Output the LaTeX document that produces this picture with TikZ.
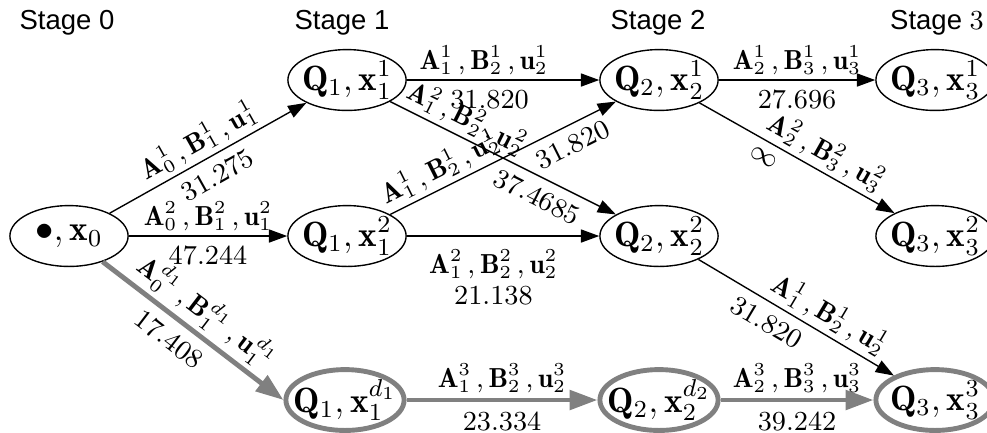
\documentclass[tikz,border=0pt]{standalone}
\usepackage{amsmath}
\usepackage{amssymb}
\usepackage{fontspec}
\newfontfamily\stagefont{Liberation Sans}
\usetikzlibrary{shapes.geometric,arrows.meta}

\definecolor{pathgray}{RGB}{128,128,128}
\newcommand{\abu}[3]{$\mathbf{A}_{#1}^{#3}\,,\mathbf{B}_{#2}^{#3}\,,\mathbf{u}_{#2}^{#3}$}
\newcommand{\qx}[2]{$\mathbf{Q}_{#1},\mathbf{x}_{#1}^{#2}$}

\tikzset{
	state/.style={ellipse, draw, line width=0.45pt, minimum width=1.36cm, minimum height=0.7cm, inner xsep=-6pt, inner ysep=-3pt, font=\fontsize{11.5}{13}\selectfont},
	best/.style={state, draw=pathgray, line width=1.6pt},
	arc/.style={draw, line width=0.45pt, -{Triangle[length=0.21cm,width=0.15cm]}},
	bestarc/.style={draw=pathgray, line width=1.6pt, -{Triangle[length=0.32cm,width=0.22cm]}},
	lbl/.style={font=\fontsize{9}{10}\selectfont, inner sep=1.5pt},
	num/.style={font=\fontsize{9}{10}\selectfont, inner sep=3pt},
	stagelbl/.style={font=\stagefont\fontsize{9}{11}\selectfont}
}

\begin{document}
\begin{tikzpicture}[x=0.0115cm, y=-0.0115cm]
		\useasboundingbox (0,0) rectangle (987,432);
		
		\node[stagelbl] (stage0) at (67,23) {Stage 0};
		\node[stagelbl] (stage1) at (342,23) {Stage 1};
		\node[stagelbl] (stage2) at (658,23) {Stage 2};
		\node[stagelbl] (stage3) at (937,23) {Stage {\rmfamily 3}};
		
		\node[state] (s0) at (69,236) {$\bullet,\mathbf{x}_0$};
		
		\node[state] (q11) at (347,80) {\qx{1}{1}};
		\node[state] (q12) at (347,236) {\qx{1}{2}};
		\node[best] (q1d) at (345,400) {\qx{1}{d_1}};
		
		\node[state] (q21) at (659,80) {\qx{2}{1}};
		\node[state] (q22) at (659,236) {\qx{2}{2}};
		\node[best] (q2d) at (659,400) {\qx{2}{d_2}};
		
		\node[state] (q31) at (935,80) {\qx{3}{1}};
		\node[state] (q32) at (935,236) {\qx{3}{2}};
		\node[best] (q33) at (935,400) {\qx{3}{3}};
		
		% stage 0 -> stage 1
		\draw[arc] (s0) -- node[lbl, sloped, above] {\abu{0}{1}{1}} node[num, sloped, below] {31.275} (q11);
		\draw[arc] (s0) -- node[lbl, above] {\abu{0}{1}{2}} node[num, below] {47.244} (q12);
		\draw[bestarc] (s0) -- node[lbl, sloped, above, pos=.5] {\abu{0}{1}{d_1}} node[num, sloped, below, pos=.44] {17.408} (q1d.west);
		
		% stage 1 -> stage 2
		\draw[arc] (q11) -- node[lbl, above, pos=.4] {\abu{1}{2}{1}} node[num, below, pos=.43] {31.820} (q21);
		\draw[arc] (q11) -- node[lbl, sloped, above, pos=.3] {\abu{1}{2}{2}} node[num, sloped, below, pos=.69] {37.4685} (q22);
		\draw[arc] (q12) -- node[lbl, sloped, above, pos=.26] {\abu{1}{2}{1}} node[num, sloped, below, pos=.77] {31.820} (q21);
		\draw[arc] (q12) -- node[lbl, below=0.1cm, pos=.45] {\abu{1}{2}{2}} node[num, below=0.46cm, pos=.45] {21.138} (q22);
		\draw[bestarc] (q1d) -- node[lbl, above] {\abu{1}{2}{3}} node[num, below] {23.334} (q2d);
		
		% stage 2 -> stage 3
		\draw[arc] (q21) -- node[lbl, above] {\abu{2}{3}{1}} node[num, below] {27.696} (q31);
		\draw[arc] (q21) -- node[lbl, sloped, above, pos=.6] {\abu{2}{3}{2}} node[num, sloped, below, pos=.37] {$\infty$} (q32);
		\draw[arc] (q22) -- node[lbl, sloped, above, pos=.62] {\abu{1}{2}{1}} node[num, sloped, below, pos=.4] {31.820} (q33);
		\draw[bestarc] (q2d) -- node[lbl, above] {\abu{2}{3}{3}} node[num, below] {39.242} (q33);
\end{tikzpicture}
\end{document}
